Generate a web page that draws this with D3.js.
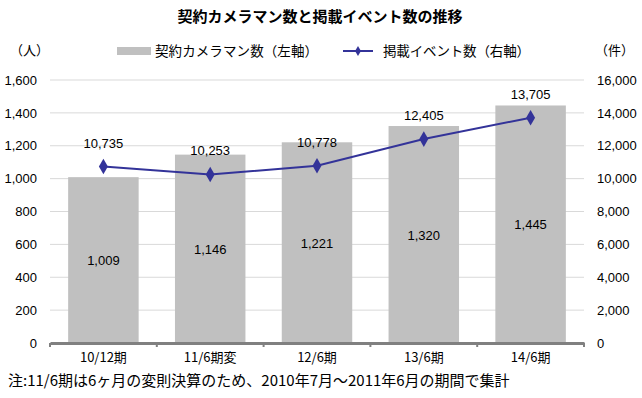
<!DOCTYPE html>
<html><head><meta charset="utf-8">
<script src="https://cdn.jsdelivr.net/npm/d3@7"></script>
<style>body{margin:0;background:#fff}text{font-family:"Liberation Sans","Noto Sans CJK JP",sans-serif}</style>
</head><body><svg id="c" width="642" height="398"></svg>
<script>
const categories = ["10/12期","11/6期変","12/6期","13/6期","14/6期"];
const photographers = [1009,1146,1221,1320,1445];
const events = [10735,10253,10778,12405,13705];
const leftTicks = [0,200,400,600,800,1000,1200,1400,1600];
const rightTicks = [0,2000,4000,6000,8000,10000,12000,14000,16000];

const svg = d3.select("#c");
const m = {l:50, r:584, t:80, b:343};
const x = d3.scaleBand().domain(categories).range([m.l,m.r]).paddingInner(0.34).paddingOuter(0.17);
const yL = d3.scaleLinear().domain([0,1600]).range([m.b,m.t]);
const yR = d3.scaleLinear().domain([0,16000]).range([m.b,m.t]);
const fmt = d3.format(",");
const jp = '"Noto Sans CJK JP","Liberation Sans",sans-serif';

svg.append("text").attr("x",320).attr("y",22).attr("text-anchor","middle")
  .attr("font-size",15).attr("font-weight","bold").style("font-family",jp).text("契約カメラマン数と掲載イベント数の推移");

svg.append("text").attr("x",10).attr("y",55).attr("font-size",13).style("font-family",jp).text("（人）");
svg.append("text").attr("x",595).attr("y",55).attr("font-size",13).style("font-family",jp).text("（件）");

svg.append("rect").attr("x",117).attr("y",47).attr("width",34).attr("height",8).attr("fill","#c0c0c0");
svg.append("text").attr("x",155).attr("y",56).attr("font-size",13.5).style("font-family",jp)
  .attr("textLength",163).attr("lengthAdjust","spacing").text("契約カメラマン数（左軸）");
svg.append("line").attr("x1",343).attr("x2",373).attr("y1",51).attr("y2",51).attr("stroke","#333399").attr("stroke-width",2);
svg.append("path").attr("d",d3.symbol(d3.symbolDiamond,30)()).attr("transform","translate(358,51)").attr("fill","#333399");
svg.append("text").attr("x",383).attr("y",56).attr("font-size",13.5).style("font-family",jp)
  .attr("textLength",147).attr("lengthAdjust","spacing").text("掲載イベント数（右軸）");

svg.append("g").selectAll("line").data(leftTicks.slice(1)).join("line")
  .attr("x1",m.l).attr("x2",m.r).attr("y1",d=>yL(d)).attr("y2",d=>yL(d))
  .attr("stroke","#d9d9d9").attr("stroke-width",1);

const gl = svg.append("g").attr("transform",`translate(${m.l},0)`)
  .call(d3.axisLeft(yL).tickValues(leftTicks).tickFormat(fmt).tickSize(0).tickPadding(13));
gl.select(".domain").remove();
gl.selectAll("text").attr("font-size",13).attr("fill","#000");

const gr = svg.append("g").attr("transform",`translate(${m.r},0)`)
  .call(d3.axisRight(yR).tickValues(rightTicks).tickFormat(fmt).tickSize(0).tickPadding(13));
gr.select(".domain").remove();
gr.selectAll("text").attr("font-size",13).attr("fill","#000");

svg.append("g").selectAll("rect").data(photographers).join("rect")
  .attr("x",(d,i)=>x(categories[i])).attr("width",x.bandwidth())
  .attr("y",d=>yL(d)).attr("height",d=>yL(0)-yL(d)).attr("fill","#c0c0c0");

svg.append("g").selectAll("text").data(photographers).join("text")
  .attr("x",(d,i)=>x(categories[i])+x.bandwidth()/2).attr("y",d=>yL(d/2)+5)
  .attr("text-anchor","middle").attr("font-size",13).text(d=>fmt(d));

const gb = svg.append("g").attr("transform",`translate(0,${m.b})`)
  .call(d3.axisBottom(x).tickSize(0).tickPadding(10));
gb.select(".domain").attr("stroke","#808080").attr("stroke-width",3);
gb.selectAll("text").attr("font-size",13).attr("fill","#000").style("font-family",jp);
svg.append("g").selectAll("line").data(d3.range(categories.length+1)).join("line")
  .attr("x1",i=>m.l+i*(m.r-m.l)/categories.length).attr("x2",i=>m.l+i*(m.r-m.l)/categories.length)
  .attr("y1",m.b).attr("y2",m.b+4).attr("stroke","#808080").attr("stroke-width",2);

const cx = i=>x(categories[i])+x.bandwidth()/2;
svg.append("path").datum(events)
  .attr("d",d3.line().x((d,i)=>cx(i)).y(d=>yR(d)))
  .attr("fill","none").attr("stroke","#333399").attr("stroke-width",2);
svg.append("g").selectAll("path").data(events).join("path")
  .attr("d",d3.symbol(d3.symbolDiamond,70)())
  .attr("transform",(d,i)=>`translate(${cx(i)},${yR(d)})`).attr("fill","#333399");
svg.append("g").selectAll("text").data(events).join("text")
  .attr("x",(d,i)=>cx(i)).attr("y",d=>yR(d)-19)
  .attr("text-anchor","middle").attr("font-size",13).text(d=>fmt(d));

svg.append("text").attr("x",8).attr("y",386).attr("font-size",15).style("font-family",jp)
  .text("注:11/6期は6ヶ月の変則決算のため、2010年7月～2011年6月の期間で集計");
</script></body></html>
